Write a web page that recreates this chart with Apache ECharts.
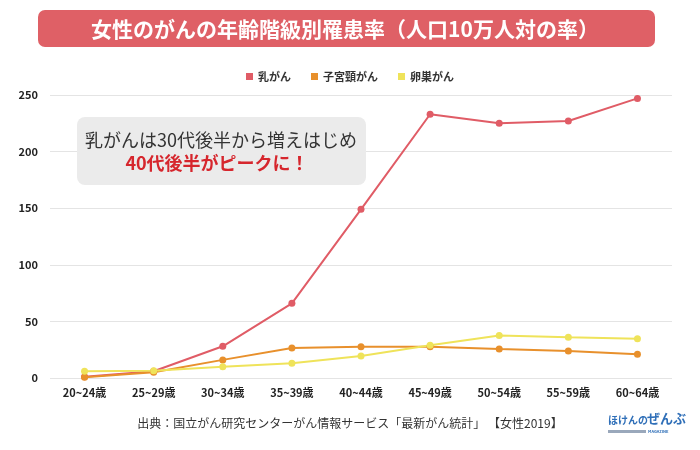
<!DOCTYPE html>
<html><head><meta charset="utf-8">
<script src="https://cdn.jsdelivr.net/npm/echarts@6/dist/echarts.min.js"></script>
<style>html,body{margin:0;padding:0;background:#fff}#c{width:700px;height:450px}</style>
</head><body><div id="c"></div>
<script>
const categories = ['20~24歳','25~29歳','30~34歳','35~39歳','40~44歳','45~49歳','50~54歳','55~59歳','60~64歳'];
const seriesNames = ['乳がん','子宮頸がん','卵巣がん'];
const breast = [1, 6, 28, 66, 149, 233, 225, 227, 247];
const cervical = [0.6, 5, 16, 26.5, 27.7, 27.7, 25.6, 23.8, 20.9];
const ovarian = [6, 6.5, 10, 13, 19.4, 29, 37.5, 36, 34.7];
const yTicks = [0, 50, 100, 150, 200, 250];
const colors = ['#e05c66', '#e8902c', '#efe35a'];
const FONT = '"Noto Sans CJK JP", "Noto Sans", sans-serif';

const chart = echarts.init(document.getElementById('c'), null, {renderer: 'canvas'});
const mk = (name, data, color) => ({
  name, type: 'line', data, color,
  symbol: 'circle', symbolSize: 7,
  lineStyle: {width: 2, color}, itemStyle: {color}
});
chart.setOption({
  animation: false,
  textStyle: {fontFamily: FONT},
  grid: {left: 50, right: 28, top: 95, bottom: 72},
  legend: {
    top: 66, left: 'center', itemWidth: 7, itemHeight: 7, itemGap: 20,
    icon: 'rect',
    textStyle: {fontSize: 11, color: '#333', fontWeight: 'bold', fontFamily: FONT},
    data: seriesNames
  },
  xAxis: {
    type: 'category', data: categories, boundaryGap: true,
    axisLine: {show: false}, axisTick: {show: false},
    axisLabel: {fontSize: 11, color: '#222', fontWeight: 'bold', margin: 9, fontFamily: FONT}
  },
  yAxis: {
    type: 'value', min: yTicks[0], max: yTicks[yTicks.length-1], interval: 50,
    axisLine: {show: false}, axisTick: {show: false},
    splitLine: {lineStyle: {color: '#e4e4e4', width: 1}},
    axisLabel: {fontSize: 11, color: '#222', fontWeight: 'bold', margin: 12, fontFamily: FONT}
  },
  graphic: [
    {type: 'rect', shape: {x: 38, y: 10, width: 617, height: 37, r: 7}, style: {fill: '#df6066'}},
    {type: 'text', x: 345, y: 29, style: {text: '女性のがんの年齢階級別罹患率（人口10万人対の率）', fill: '#fff', font: 'bold 21px ' + FONT, textAlign: 'center', textVerticalAlign: 'middle'}},
    {type: 'rect', z: 10, shape: {x: 77, y: 117, width: 289, height: 68, r: 8}, style: {fill: '#ebebeb'}},
    {type: 'text', z: 11, x: 221, y: 140, style: {text: '乳がんは30代後半から増えはじめ', fill: '#333', font: '18px ' + FONT, textAlign: 'center', textVerticalAlign: 'middle'}},
    {type: 'text', z: 11, x: 217, y: 163, style: {text: '40代後半がピークに！', fill: '#d6262d', font: 'bold 18px ' + FONT, textAlign: 'center', textVerticalAlign: 'middle'}},
    {type: 'text', x: 350, y: 423, style: {text: '出典：国立がん研究センターがん情報サービス「最新がん統計」 【女性2019】', fill: '#333', font: '12px ' + FONT, textAlign: 'center', textVerticalAlign: 'middle'}},
    {type: 'text', x: 608, y: 420, style: {text: 'ほけんの', fill: '#2f6fb8', font: 'bold 10px ' + FONT, textVerticalAlign: 'middle'}},
    {type: 'text', x: 647, y: 418, style: {text: 'ぜんぶ', fill: '#2f6fb8', font: 'bold 13px ' + FONT, textVerticalAlign: 'middle'}},
    {type: 'rect', shape: {x: 608, y: 430, width: 38, height: 3}, style: {fill: '#9aa8bb'}},
    {type: 'text', x: 648, y: 431.5, style: {text: 'MAGAZINE', fill: '#2f6fb8', font: 'bold 4px ' + FONT, textVerticalAlign: 'middle'}}
  ],
  series: [mk(seriesNames[0], breast, colors[0]), mk(seriesNames[1], cervical, colors[1]), mk(seriesNames[2], ovarian, colors[2])]
});
</script></body></html>
